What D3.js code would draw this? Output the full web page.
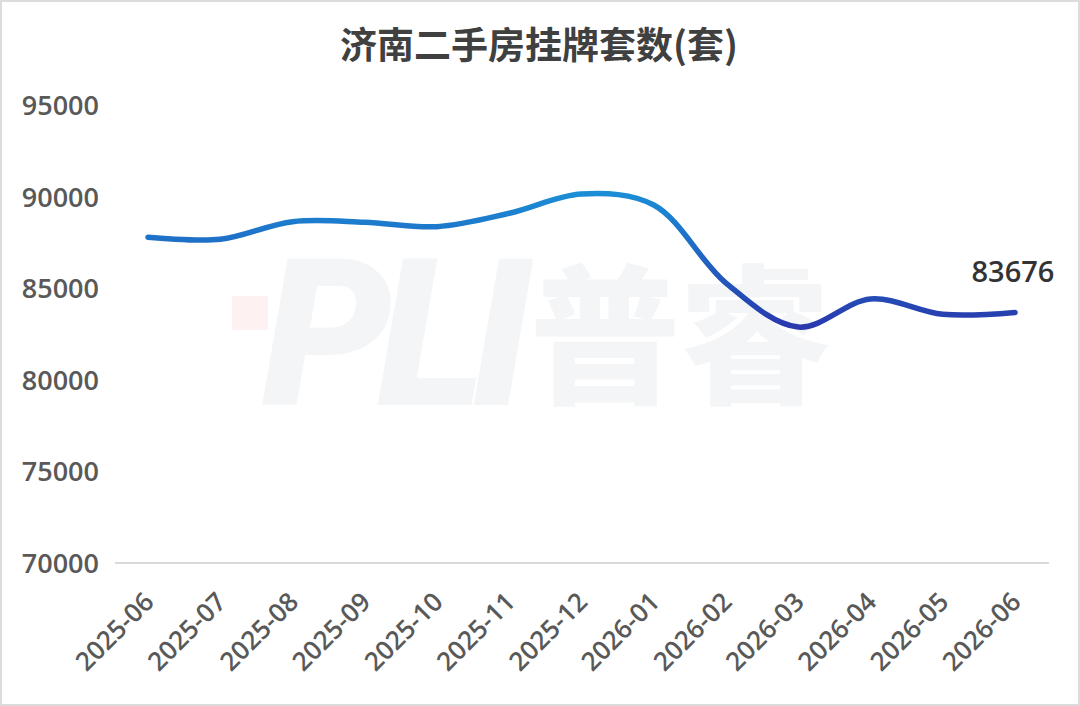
<!DOCTYPE html>
<html>
<head>
<meta charset="utf-8">
<script src="https://cdn.jsdelivr.net/npm/d3@7"></script>
<style>
html,body{margin:0;padding:0;background:#fff;}
svg{display:block;}
</style>
</head>
<body>
<svg id="chart" width="1080" height="706"></svg>
<script>
const categories = ['2025-06','2025-07','2025-08','2025-09','2025-10','2025-11','2025-12','2026-01','2026-02','2026-03','2026-04','2026-05','2026-06'];
const values = [87780, 87670, 88630, 88600, 88360, 89090, 90140, 89540, 85280, 82880, 84410, 83575, 83676];
const yTicks = [70000, 75000, 80000, 85000, 90000, 95000];
const titleText = '济南二手房挂牌套数(套)';
const lastLabel = '83676';

const W = 1080, H = 706;
const svg = d3.select('#chart');

// frame
svg.append('rect').attr('x',1).attr('y',1).attr('width',W-2).attr('height',H-2)
  .attr('fill','#fff').attr('stroke','#dcdcdc').attr('stroke-width',2);

// watermark
const wm = svg.append('g');
wm.append('rect').attr('x',232).attr('y',296).attr('width',36).attr('height',34).attr('fill','#fdf1f2');
wm.append('text').attr('x',262).attr('y',405)
  .attr('font-family','Roboto, Arial, sans-serif').attr('font-weight',900).attr('font-style','italic')
  .attr('font-size',205).attr('fill','#f3f5f7').attr('letter-spacing',-14).text('PLI');
wm.append('text').attr('x',530).attr('y',392)
  .attr('font-family','"Noto Sans CJK SC", sans-serif').attr('font-weight',900)
  .attr('font-size',150).attr('fill','#f3f5f7').text('普睿');

const x = d3.scalePoint().domain(categories).range([148, 1015]);
const y = d3.scaleLinear().domain([70000, 95000]).range([563, 105]);

// title
svg.append('text').attr('x',539).attr('y',59).attr('text-anchor','middle')
  .attr('font-family','"Noto Sans CJK SC", sans-serif').attr('font-weight',700)
  .attr('font-size',37).attr('fill','#404040').text(titleText);

// baseline gridline
svg.append('line').attr('x1',115).attr('x2',1049).attr('y1',y(70000)).attr('y2',y(70000))
  .attr('stroke','#d9d9d9').attr('stroke-width',2);

// y axis labels
const yAxis = d3.axisLeft(y).tickValues(yTicks).tickSize(0).tickPadding(0).tickFormat(d3.format('d'));
const gy = svg.append('g').attr('transform','translate(99,0)').call(yAxis);
gy.select('.domain').remove();
gy.selectAll('text').attr('font-family','"Open Sans", sans-serif').attr('font-weight',600)
  .attr('font-size',27).attr('fill','#595959').attr('dy','0.35em');

// x axis labels
const xAxis = d3.axisBottom(x).tickSize(0).tickPadding(0);
const gx = svg.append('g').call(xAxis);
gx.select('.domain').remove();
gx.selectAll('.tick').attr('transform', d => `translate(${x(d)+1},597)`);
gx.selectAll('text').attr('font-family','"Open Sans", sans-serif').attr('font-weight',600)
  .attr('font-size',26).attr('fill','#595959')
  .attr('text-anchor','end').attr('y',0).attr('dy','0.35em')
  .attr('transform','rotate(-45)');

// gradient
const defs = svg.append('defs');
const grad = defs.append('linearGradient').attr('id','lg').attr('gradientUnits','userSpaceOnUse')
  .attr('x1',0).attr('x2',0).attr('y1',y(90300)).attr('y2',y(82700));
grad.append('stop').attr('offset','0%').attr('stop-color','#1b8fd6');
grad.append('stop').attr('offset','33%').attr('stop-color','#1e72c8');
grad.append('stop').attr('offset','67%').attr('stop-color','#2354b9');
grad.append('stop').attr('offset','100%').attr('stop-color','#2a36ad');

const line = d3.line().x((d,i)=>x(categories[i])).y(d=>y(d)).curve(d3.curveCatmullRom.alpha(0.5));
svg.append('path').datum(values).attr('d',line).attr('fill','none')
  .attr('stroke','url(#lg)').attr('stroke-width',5.5).attr('stroke-linecap','round').attr('stroke-linejoin','round');

// last label
svg.append('text').attr('x',x(categories[categories.length-1])-2).attr('y',y(values[values.length-1])-30)
  .attr('text-anchor','middle').attr('font-family','"Open Sans", sans-serif').attr('font-weight',600)
  .attr('font-size',29).attr('fill','#333').text(lastLabel);
</script>
</body>
</html>
